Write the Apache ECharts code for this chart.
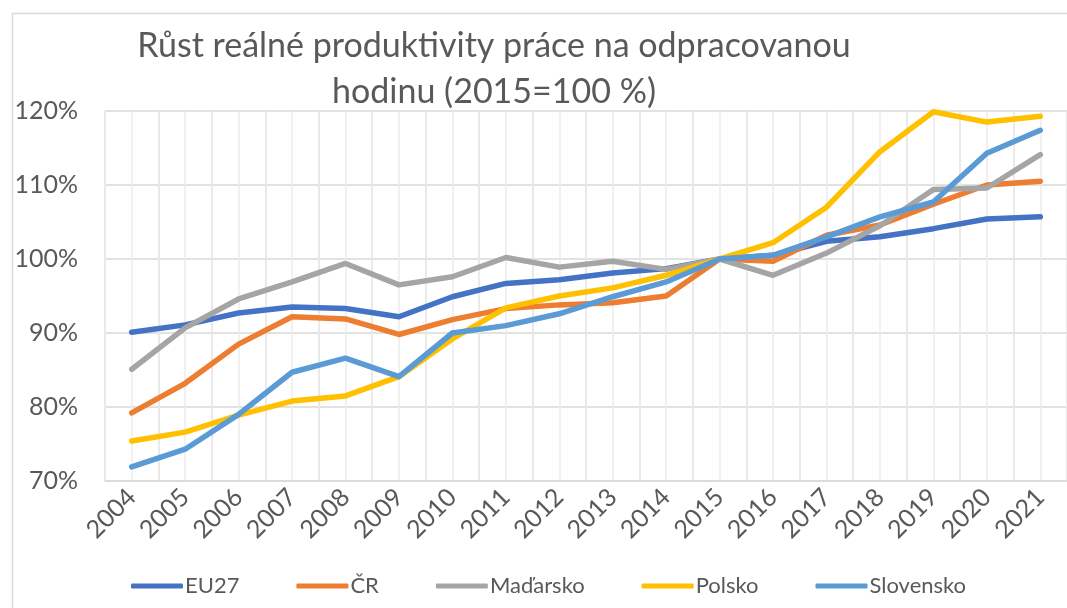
<!DOCTYPE html>
<html>
<head>
<meta charset="utf-8">
<script src="https://cdn.jsdelivr.net/npm/echarts@6/dist/echarts.min.js"></script>
<style>
  html, body { margin: 0; padding: 0; background: #fff; }
  #chart { width: 1067px; height: 608px; }
</style>
</head>
<body>
<div id="chart"></div>
<script>
const years = ['2004', '2005', '2006', '2007', '2008', '2009', '2010', '2011', '2012',
  '2013', '2014', '2015', '2016', '2017', '2018', '2019', '2020', '2021'];

const eu27 = [90.1, 91.1, 92.7, 93.5, 93.3, 92.2, 94.9, 96.7, 97.2, 98.1, 98.7, 100, 100.5, 102.4, 103.0, 104.1, 105.4, 105.7];
const cr = [79.2, 83.2, 88.5, 92.2, 91.9, 89.8, 91.8, 93.3, 93.8, 94.1, 95.0, 100, 99.7, 103.2, 104.6, 107.4, 110.0, 110.5];
const madarsko = [85.1, 90.7, 94.6, 96.9, 99.4, 96.5, 97.6, 100.2, 98.9, 99.7, 98.6, 100, 97.8, 100.8, 104.5, 109.4, 109.6, 114.1];
const polsko = [75.4, 76.6, 78.9, 80.8, 81.5, 84.1, 89.2, 93.4, 95.0, 96.1, 97.8, 100, 102.2, 107.0, 114.5, 119.9, 118.5, 119.3];
const slovensko = [71.9, 74.3, 79.0, 84.7, 86.6, 84.1, 90.0, 91.0, 92.6, 94.9, 96.9, 100, 100.5, 103.0, 105.7, 107.7, 114.3, 117.4];

const textColor = '#595959';
const font = 'Lato, "Open Sans", sans-serif';

const chart = echarts.init(document.getElementById('chart'));

const lineSeries = (name, data, color) => ({
  name: name,
  type: 'line',
  data: data,
  xAxisIndex: 0,
  showSymbol: false,
  symbol: 'none',
  lineStyle: { color: color, width: 5.5, cap: 'round', join: 'round' },
  itemStyle: { color: color },
});

chart.setOption({
  animation: false,
  textStyle: { fontFamily: font },
  graphic: [
    {
      // chart frame, only the left and top edges are inside the picture
      type: 'rect',
      left: 10,
      top: 11,
      shape: { width: 1100, height: 700 },
      style: { fill: 'none', stroke: '#d9d9d9', lineWidth: 1.5 },
      silent: true,
    },
  ],
  title: {
    text: 'Růst reálné produktivity práce na odpracovanou\nhodinu (2015=100 %)',
    left: 489,
    top: 18,
    textAlign: 'center',
    textStyle: {
      fontFamily: font,
      fontSize: 34,
      fontWeight: 'normal',
      color: textColor,
      lineHeight: 46,
    },
  },
  legend: {
    bottom: 6,
    left: 126,
    icon: 'roundRect',
    itemWidth: 52,
    itemHeight: 5,
    itemGap: 57,
    textStyle: { fontFamily: font, fontSize: 22, color: textColor, padding: [0, 0, 0, -3] },
    data: ['EU27', 'ČR', 'Maďarsko', 'Polsko', 'Slovensko'],
  },
  grid: { left: 105, right: -3, top: 111, bottom: 127 },
  xAxis: [
    {
      type: 'category',
      data: years,
      boundaryGap: true,
      axisLine: { lineStyle: { color: '#d9d9d9', width: 1.5 } },
      axisTick: { show: false },
      splitLine: { show: true, lineStyle: { color: '#d9d9d9', width: 1.5 } },
      axisLabel: {
        interval: 0,
        rotate: 45,
        fontSize: 25,
        color: textColor,
        margin: 12,
      },
    },
    {
      // light center gridlines between the category boundaries
      type: 'value',
      min: -0.5,
      max: 17.5,
      interval: 0.5,
      show: true,
      axisLine: { show: false },
      axisTick: { show: false },
      axisLabel: { show: false },
      splitLine: { show: true, lineStyle: { color: '#ececec', width: 1.5 } },
    },
  ],
  yAxis: {
    type: 'value',
    min: 70,
    max: 120,
    interval: 10,
    axisLine: { show: false },
    axisTick: { show: false },
    axisLabel: { formatter: '{value}%', fontSize: 25, color: textColor, margin: 27 },
    splitLine: { lineStyle: { color: '#d9d9d9', width: 1.5 } },
  },
  series: [
    lineSeries('EU27', eu27, '#4472c4'),
    lineSeries('ČR', cr, '#ed7d31'),
    lineSeries('Maďarsko', madarsko, '#a5a5a5'),
    lineSeries('Polsko', polsko, '#ffc000'),
    lineSeries('Slovensko', slovensko, '#5b9bd5'),
  ],
});

window.addEventListener('resize', () => {
  chart.resize();
});
</script>
</body>
</html>
